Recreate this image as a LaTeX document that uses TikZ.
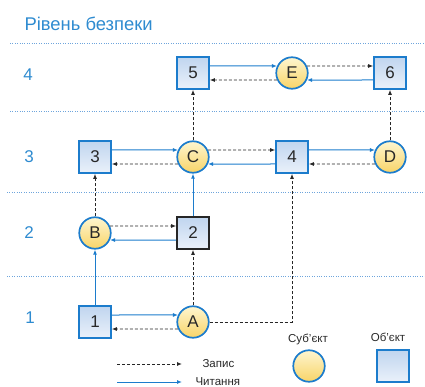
\documentclass[tikz,border=0pt]{standalone}
\usepackage{fontspec}
\setmainfont{Liberation Sans}
\usetikzlibrary{arrows.meta,positioning}
\definecolor{lvlblue}{RGB}{46,139,208}
\definecolor{edgeblue}{RGB}{28,124,204}
\definecolor{dotblue}{RGB}{110,165,220}
\definecolor{objtop}{RGB}{192,213,239}
\definecolor{objbot}{RGB}{234,241,250}
\definecolor{subtop}{RGB}{254,246,208}
\definecolor{subbot}{RGB}{248,212,104}
\definecolor{txtgray}{RGB}{40,40,40}

\begin{document}
\begin{tikzpicture}[x=1pt,y=-1pt,
    every node/.style={font=\fontsize{17}{20}\selectfont, text=txtgray}]
        \tikzset{
          obj/.style={draw=edgeblue, line width=1.7pt, minimum size=32pt, inner sep=0pt,
            top color=objtop, bottom color=objbot},
          subj/.style={circle, draw=edgeblue, line width=1.7pt, minimum size=31.5pt, inner sep=0pt,
            top color=subtop, bottom color=subbot},
          rd/.style={edgeblue, line width=1pt, -{Latex[length=5pt,width=4pt]}},
          wr/.style={black!85, line width=0.9pt, dash pattern=on 3pt off 2pt, -{Latex[length=5pt,width=4pt]}},
          lvl/.style={text=lvlblue},
          legtxt/.style={font=\fontsize{11.5}{13}\selectfont},
          sep/.style={dotblue, line width=0.8pt, dash pattern=on 0.8pt off 1.6pt},
        }
        \useasboundingbox (0,0) rectangle (425,387);
        \node [lvl, anchor=base west, font=\fontsize{18.4}{21}\selectfont] (title) at (21,31) {Рівень безпеки};
        % 
        \draw [sep] (10,43) -- (425,43);
        \draw [sep] (10,111) -- (425,111);
        \draw [sep] (7,192) -- (425,192);
        \draw [sep] (7,276) -- (425,276);
        % 
        \node [lvl] (lvl4) at (28,75) {4};
        \node [lvl] (lvl3) at (29,157) {3};
        \node [lvl] (lvl2) at (29,233) {2};
        \node [lvl] (lvl1) at (30,318) {1};
        % 
        \node [obj] (o5) at (193,73) {5};
        \node [subj] (sE) at (292,73) {E};
        \node [obj] (o6) at (390,73) {6};
        \node [obj] (o3) at (95,157) {3};
        \node [subj] (sC) at (193,157) {C};
        \node [obj] (o4) at (292,157) {4};
        \node [subj] (sD) at (390,157) {D};
        \node [subj] (sB) at (95,233) {B};
        \node [obj, draw=black!85] (o2) at (193,233) {2};
        \node [obj] (o1) at (95,322) {1};
        \node [subj] (sA) at (193,322) {A};
        % 
        \draw [rd] ([yshift=7pt]o5.east) -- (sE.155);
        \draw [wr] (sE.205) -- ([yshift=-7pt]o5.east);
        \draw [wr] (sE.25) -- ([yshift=7pt]o6.west);
        \draw [rd] ([yshift=-7pt]o6.west) -- (sE.335);
        \draw [wr] (sC.north) -- (o5.south);
        \draw [wr] (sD.north) -- (o6.south);
        % 
        \draw [rd] ([yshift=7pt]o3.east) -- (sC.155);
        \draw [wr] (sC.205) -- ([yshift=-7pt]o3.east);
        \draw [wr] (sC.25) -- ([yshift=7pt]o4.west);
        \draw [rd] ([yshift=-7pt]o4.west) -- (sC.335);
        \draw [rd] ([yshift=7pt]o4.east) -- (sD.155);
        \draw [wr] (sD.205) -- ([yshift=-7pt]o4.east);
        % 
        \draw [wr] (sB.north) -- (o3.south);
        \draw [rd] (o2.north) -- (sC.south);
        \draw [wr] (sB.25) -- ([yshift=7pt]o2.west);
        \draw [rd] ([yshift=-7pt]o2.west) -- (sB.335);
        % 
        \draw [rd] (o1.north) -- (sB.south);
        \draw [wr] (sA.north) -- (o2.south);
        \draw [rd] ([yshift=7pt]o1.east) -- (sA.155);
        \draw [wr] (sA.205) -- ([yshift=-7pt]o1.east);
        \draw [wr] (sA.east) -| (o4.south);
        % legend
        \coordinate (wrS) at (117,364);
        \coordinate (wrE) at (182,364);
        \coordinate (rdS) at (117,382);
        \coordinate (rdE) at (182,382);
        \draw [wr] (wrS) -- (wrE);
        \draw [rd] (rdS) -- (rdE);
        \node [legtxt, anchor=west] (wrlab) at (199,364) {Запис};
        \node [legtxt, anchor=west] (rdlab) at (192,382) {Читання};
        \node [legtxt] (sublab) at (308,339) {Суб'єкт};
        \node [legtxt] (objlab) at (388,337) {Об'єкт};
        \node [subj] (legS) at (309,366) {};
        \node [obj] (legO) at (393,366) {};
    \end{tikzpicture}
\end{document}
